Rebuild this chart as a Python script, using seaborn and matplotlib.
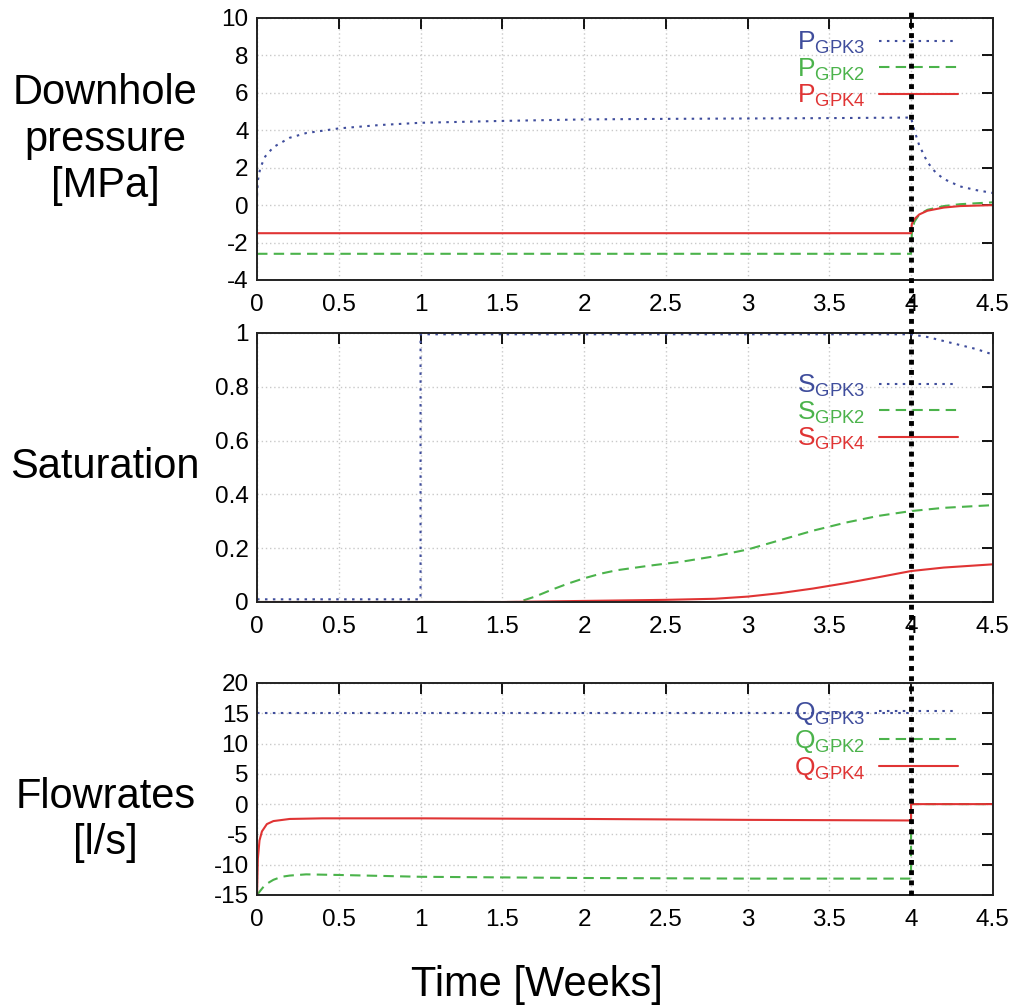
import numpy as np
import matplotlib
matplotlib.use("Agg")
import matplotlib.pyplot as plt
import seaborn as sns
from matplotlib.lines import Line2D

# data
# downhole pressure [MPa]
t_p3 = [0, 0.005, 0.02, 0.05, 0.1, 0.2, 0.3, 0.5, 0.75, 1.0, 1.5, 2.0, 2.5, 3.0, 3.5, 4.0,
        4.02, 4.05, 4.1, 4.15, 4.2, 4.3, 4.4, 4.5]
p_gpk3 = [0.5, 1.3, 2.0, 2.6, 3.1, 3.6, 3.85, 4.1, 4.28, 4.4, 4.5, 4.58, 4.61, 4.63, 4.65, 4.68,
          4.0, 3.2, 2.3, 1.75, 1.4, 1.0, 0.8, 0.65]
t_p2 = [0, 4.0, 4.005, 4.02, 4.05, 4.1, 4.2, 4.3, 4.5]
p_gpk2 = [-2.6, -2.6, -1.5, -0.9, -0.5, -0.25, -0.05, 0.05, 0.15]
t_p4 = [0, 4.0, 4.005, 4.02, 4.05, 4.1, 4.2, 4.3, 4.5]
p_gpk4 = [-1.5, -1.5, -1.0, -0.75, -0.5, -0.3, -0.13, -0.05, 0.0]

# saturation
t_s3 = [0, 1.0, 1.0, 2.0, 3.0, 4.0, 4.1, 4.2, 4.3, 4.4, 4.5]
s_gpk3 = [0.01, 0.01, 0.995, 0.995, 0.995, 0.995, 0.985, 0.97, 0.955, 0.94, 0.92]
t_s2 = [0, 1.6, 1.7, 1.8, 1.9, 2.0, 2.1, 2.2, 2.4, 2.6, 2.8, 3.0, 3.2, 3.4, 3.6, 3.8, 4.0, 4.2, 4.5]
s_gpk2 = [0, 0, 0.02, 0.045, 0.068, 0.088, 0.105, 0.118, 0.135, 0.15, 0.17, 0.195, 0.23,
          0.265, 0.295, 0.32, 0.338, 0.35, 0.36]
t_s4 = [0, 1.5, 2.0, 2.5, 2.8, 3.0, 3.2, 3.4, 3.6, 3.8, 4.0, 4.2, 4.5]
s_gpk4 = [0, 0, 0.004, 0.008, 0.012, 0.02, 0.033, 0.05, 0.07, 0.092, 0.115, 0.128, 0.14]

# flowrates [l/s]
t_q3 = [0, 4.0]
q_gpk3 = [15, 15]
t_q2 = [0, 0.02, 0.05, 0.1, 0.15, 0.2, 0.3, 0.5, 1.0, 2.0, 3.0, 4.0, 4.0, 4.5]
q_gpk2 = [-15, -14.3, -13.3, -12.5, -12.0, -11.8, -11.6, -11.7, -12.0, -12.2, -12.3, -12.3, 0, 0]
t_q4 = [0, 0.005, 0.015, 0.03, 0.06, 0.1, 0.2, 0.4, 1.0, 2.0, 3.0, 4.0, 4.0, 4.5]
q_gpk4 = [-15, -9, -6, -4.5, -3.3, -2.8, -2.45, -2.35, -2.35, -2.45, -2.6, -2.7, 0, 0]

shutin = 4.0
xticks = [0, 0.5, 1, 1.5, 2, 2.5, 3, 3.5, 4, 4.5]
xticklabels = ["0", "0.5", "1", "1.5", "2", "2.5", "3", "3.5", "4", "4.5"]

blue = "#3f4d9c"
green = "#4bb34b"
red = "#e03434"
dotted = (0, (1.2, 2.6))
dashed = (0, (5, 3))

sns.set_style("white")
plt.rcParams["font.family"] = ["Liberation Sans", "DejaVu Sans"]
plt.rcParams["text.color"] = "black"
plt.rcParams["mathtext.fontset"] = "custom"
plt.rcParams["mathtext.rm"] = "Liberation Sans"

fig = plt.figure(figsize=(10.12, 10.05), dpi=100)
left, width = 0.254, 0.727
ax1 = fig.add_axes([left, 0.7214, width, 0.2607])
ax2 = fig.add_axes([left, 0.4010, width, 0.2677])
ax3 = fig.add_axes([left, 0.1095, width, 0.2109])

panels = [
    (ax1, "P", [(t_p3, p_gpk3), (t_p2, p_gpk2), (t_p4, p_gpk4)], (-4, 10), np.arange(-4, 11, 2),
     [str(v) for v in range(-4, 11, 2)], (0.9525, 0.955)),
    (ax2, "S", [(t_s3, s_gpk3), (t_s2, s_gpk2), (t_s4, s_gpk4)], (0, 1), np.arange(0, 1.01, 0.2),
     ["0", "0.2", "0.4", "0.6", "0.8", "1"], (0.9525, 0.852)),
    (ax3, "Q", [(t_q3, q_gpk3), (t_q2, q_gpk2), (t_q4, q_gpk4)], (-15, 20), np.arange(-15, 21, 5),
     [str(v) for v in range(-15, 21, 5)], (0.9525, 0.918)),
]

styles = [(blue, dotted, "GPK3"), (green, dashed, "GPK2"), (red, "-", "GPK4")]

for ax, sym, series, ylim, yt, ytl, anchor in panels:
    for (t, v), (col, ls, well) in zip(series, styles):
        sns.lineplot(x=t, y=v, ax=ax, color=col, linestyle=ls, linewidth=1.5,
                     estimator=None, sort=False,
                     label=r"$\mathregular{%s_{%s}}$" % (sym, well))
    ax.set_xlim(0, 4.5)
    ax.set_ylim(*ylim)
    ax.set_xticks(xticks)
    ax.set_xticklabels(xticklabels, fontsize=17.5)
    ax.set_yticks(yt)
    ax.set_yticklabels(ytl, fontsize=17.5)
    ax.set_xlabel("")
    ax.set_ylabel("")
    ax.grid(True, color="#c9c9c9", linestyle=(0, (1, 2)), linewidth=1)
    ax.tick_params(direction="in", length=8, width=1.3, top=True, right=True, colors="black")
    ax.tick_params(axis="x", pad=10)
    ax.tick_params(axis="y", pad=6)
    for s in ax.spines.values():
        s.set_color("#222222")
        s.set_linewidth(1.4)
    leg = ax.legend(loc="upper right", bbox_to_anchor=anchor, frameon=False,
                    markerfirst=False, labelcolor="linecolor", fontsize=19,
                    handlelength=3.0, handletextpad=0.5, labelspacing=0.02,
                    borderpad=0, borderaxespad=0)

# left labels
fig.text(0.104, 0.861, "Downhole\npressure\n[MPa]", fontsize=30, ha="center", va="center",
         linespacing=1.2)
fig.text(0.104, 0.535, "Saturation", fontsize=30, ha="center", va="center")
fig.text(0.104, 0.184, "Flowrates\n[l/s]", fontsize=30, ha="center", va="center",
         linespacing=1.2)
fig.text(0.531, 0.02, "Time [Weeks]", fontsize=30, ha="center", va="center")

# shut-in marker across all panels
fig.canvas.draw()
xfig = fig.transFigure.inverted().transform(ax1.transData.transform((shutin, 0)))[0]
ybot = ax3.get_position().y0
fig.add_artist(Line2D([xfig, xfig], [ybot, 1 - 8 / 1005], transform=fig.transFigure,
                      color="black", linewidth=3.5, linestyle=(0, (1, 1.1)), zorder=10))

fig.savefig("out.png", dpi=100)
